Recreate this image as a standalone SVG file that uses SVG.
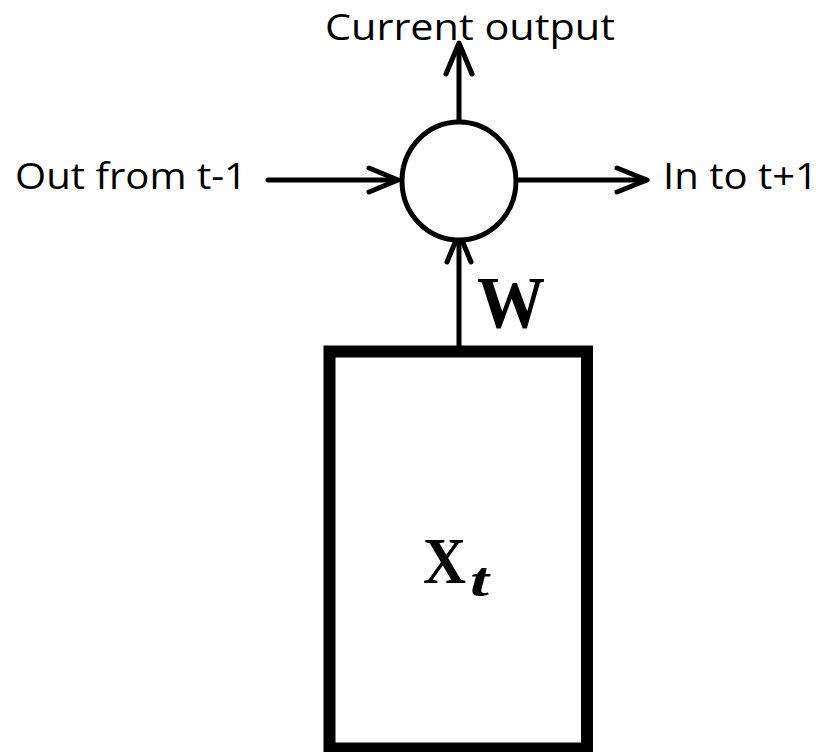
<svg xmlns="http://www.w3.org/2000/svg" width="827" height="752" viewBox="0 0 827 752">
<style>
.lbl{font-family:"Open Sans","Liberation Sans",sans-serif;font-size:37px;fill:#000}
.math{font-family:"Liberation Serif","DejaVu Serif",serif;font-weight:bold;fill:#000}
.ln{stroke:#000;stroke-width:5;fill:none;stroke-linecap:round;stroke-linejoin:round}
</style>
<rect width="827" height="752" fill="#fff"/>
<g id="connectors">
<line class="ln" x1="459" y1="120" x2="459" y2="45"/>
<polyline class="ln" points="446,74 459,43 472,74"/>
<line class="ln" x1="268" y1="180" x2="397" y2="180"/>
<polyline class="ln" points="369,168 398,180 369,192"/>
<line class="ln" x1="517" y1="180" x2="646" y2="180"/>
<polyline class="ln" points="617,168 647,180 617,192"/>
<line class="ln" x1="459" y1="346" x2="459" y2="235"/>
<polyline class="ln" points="447,262 459,233 471,262"/>
</g>
<g id="node-sum">
<ellipse cx="459" cy="181" rx="57" ry="59" fill="#fff" stroke="#000" stroke-width="5"/>
</g>
<g id="node-input">
<rect x="329.5" y="351.5" width="257.5" height="397" fill="#fff" stroke="#000" stroke-width="12"/>
<text class="math" x="423" y="583" font-size="66" textLength="43" lengthAdjust="spacingAndGlyphs">X</text>
<text class="math" x="470" y="596" font-size="48" font-style="italic" textLength="19" lengthAdjust="spacingAndGlyphs">t</text>
</g>
<g id="labels">
<text class="lbl" x="325" y="40" textLength="290" lengthAdjust="spacingAndGlyphs">Current output</text>
<text class="lbl" x="15" y="189" textLength="232" lengthAdjust="spacingAndGlyphs">Out from t-1</text>
<text class="lbl" x="663" y="189" textLength="155" lengthAdjust="spacingAndGlyphs">In to t+1</text>
<text class="math" x="477" y="328" font-size="74" textLength="68" lengthAdjust="spacingAndGlyphs">W</text>
</g>
</svg>
